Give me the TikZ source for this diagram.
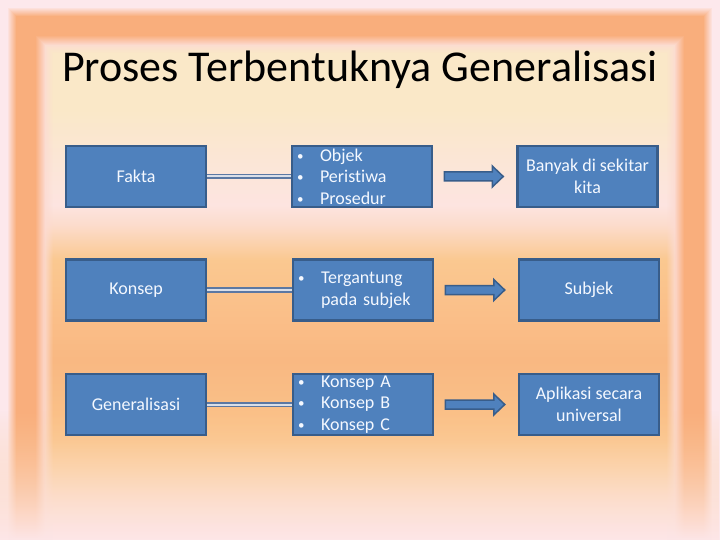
\documentclass[tikz,border=0pt]{standalone}
\usepackage{fontspec}
\setmainfont{Carlito}[Ligatures=NoCommon]
\usetikzlibrary{calc,fadings}
\definecolor{boxfill}{HTML}{4F81BD}
\definecolor{boxline}{HTML}{385D8A}
\definecolor{boxtext}{HTML}{F4F8FF}
\definecolor{linkcol}{HTML}{5B78A3}
\definecolor{linkgap}{HTML}{D9DEE8}
\definecolor{bgpink}{HTML}{FDE6E8}
\definecolor{edgepink}{HTML}{FDE8EC}
\definecolor{bgorange}{HTML}{F9AE7C}
\definecolor{bgpeach}{HTML}{FBD3A8}
\definecolor{sA}{HTML}{FCDCC6}
\definecolor{sB}{HTML}{FBD0A0}
\definecolor{sC}{HTML}{FAC48A}
\definecolor{sD}{HTML}{F9B882}
\definecolor{sE}{HTML}{FABE88}
\definecolor{sF}{HTML}{FAC890}
\definecolor{sG}{HTML}{FCDCCC}
\definecolor{sH}{HTML}{FDE4E0}
\definecolor{sI}{HTML}{FBE6D6}
\definecolor{sJ}{HTML}{FAE8C8}
\pgfdeclareverticalshading{bgshade}{100bp}{color(0bp)=(bgpink); color(25bp)=(bgpink); color(28.24bp)=(sA); color(31.48bp)=(sB); color(34.26bp)=(sC); color(41.67bp)=(sD); color(45.37bp)=(sE); color(50.93bp)=(sF); color(54.17bp)=(sG); color(56.02bp)=(sH); color(60.19bp)=(sI); color(64.81bp)=(sJ); color(75bp)=(sJ); color(100bp)=(sJ)}
\newcommand\bul{\makebox[23bp][l]{\raisebox{1bp}{\fontsize{13bp}{13bp}\selectfont •}}}
\tikzset{
  box/.style={draw=boxline, line width=2.5bp, fill=boxfill, text=boxtext,
    minimum width=140bp, minimum height=61bp, inner sep=0pt,
    font=\fontsize{18bp}{21.6bp}\selectfont, align=center},
  listbox/.style={box, align=left, text width=130bp, inner xsep=5bp},
  dlink/.style={draw=linkcol, double=linkgap, double distance=2bp, line width=1.8bp},
  barrow/.style={draw=boxline, line width=1.5bp, fill=boxfill, line join=miter},
}
\newcommand\blockarrow[2]{%
  \coordinate (s#1) at ($(#1.east)+(11,0)$);
  \coordinate (t#1) at ($(#2.west)+(-13,0)$);
  \draw[barrow] ($(s#1)+(0,-4.5)$) -- ($(t#1)+(-11,-4.5)$) -- ($(t#1)+(-11,-10.5)$)
    -- (t#1) -- ($(t#1)+(-11,10.5)$) -- ($(t#1)+(-11,4.5)$) -- ($(s#1)+(0,4.5)$) -- cycle;}
\begin{document}
\begin{tikzpicture}[x=1bp,y=-1bp]
\useasboundingbox (0,0) rectangle (720,540);
\begin{scope}
\clip (0,0) rectangle (720,540);
\shade[shading=bgshade] (0,0) rectangle (720,540);
\foreach \i in {8,...,52}{
  \ifnum\i<16 \pgfmathtruncatemacro\p{(\i-7)*11}\else
    \ifnum\i<36 \def\p{100}\else
     \ifnum\i<46 \pgfmathtruncatemacro\p{100-(\i-35)*8}\else
      \def\p{20}\fi\fi\fi
  \ifnum\i<44 \def\o{1}\else \pgfmathsetmacro\o{(53-\i)/10}\fi
  \draw[color=bgorange!\p!bgpink, opacity=\o, line width=1.1bp] (\i+0.5,\i+0.5) rectangle (719.5-\i,600);
}
\fill[edgepink, even odd rule] (0,0) rectangle (720,600) (8,8) rectangle (712,600);
\shade[top color=sB, bottom color=bgpink, path fading=north] (0,410) rectangle (720,540);
\end{scope}

\node[font=\fontsize{44bp}{52bp}\selectfont, text=black, anchor=base] (title) at (360,82) {Proses Terbentuknya Generalisasi};

\node[box] (l1) at (136,176.5) {Fakta};
\node[listbox] (m1) at (362,176.5) {\bul Objek\\\bul Peristiwa\\\bul Prosedur};
\node[box] (r1) at (587.5,176.5) {Banyak di sekitar\\kita};

\node[box] (l2) at (136,290) {Konsep};
\node[listbox] (m2) at (363,290) {\bul Tergantung\\\hspace*{23bp}pada subjek};
\node[box] (r2) at (589,290) {Subjek};

\node[box] (l3) at (136,404.5) {Generalisasi};
\node[listbox] (m3) at (363,404.5) {\bul Konsep A\\\bul Konsep B\\\bul Konsep C};
\node[box] (r3) at (589,404.5) {Aplikasi secara\\universal};

\draw[dlink] (l1.east) -- (m1.west);
\draw[dlink] (l2.east) -- (m2.west);
\draw[dlink] (l3.east) -- (m3.west);
\blockarrow{m1}{r1}
\blockarrow{m2}{r2}
\blockarrow{m3}{r3}
\end{tikzpicture}
\end{document}
